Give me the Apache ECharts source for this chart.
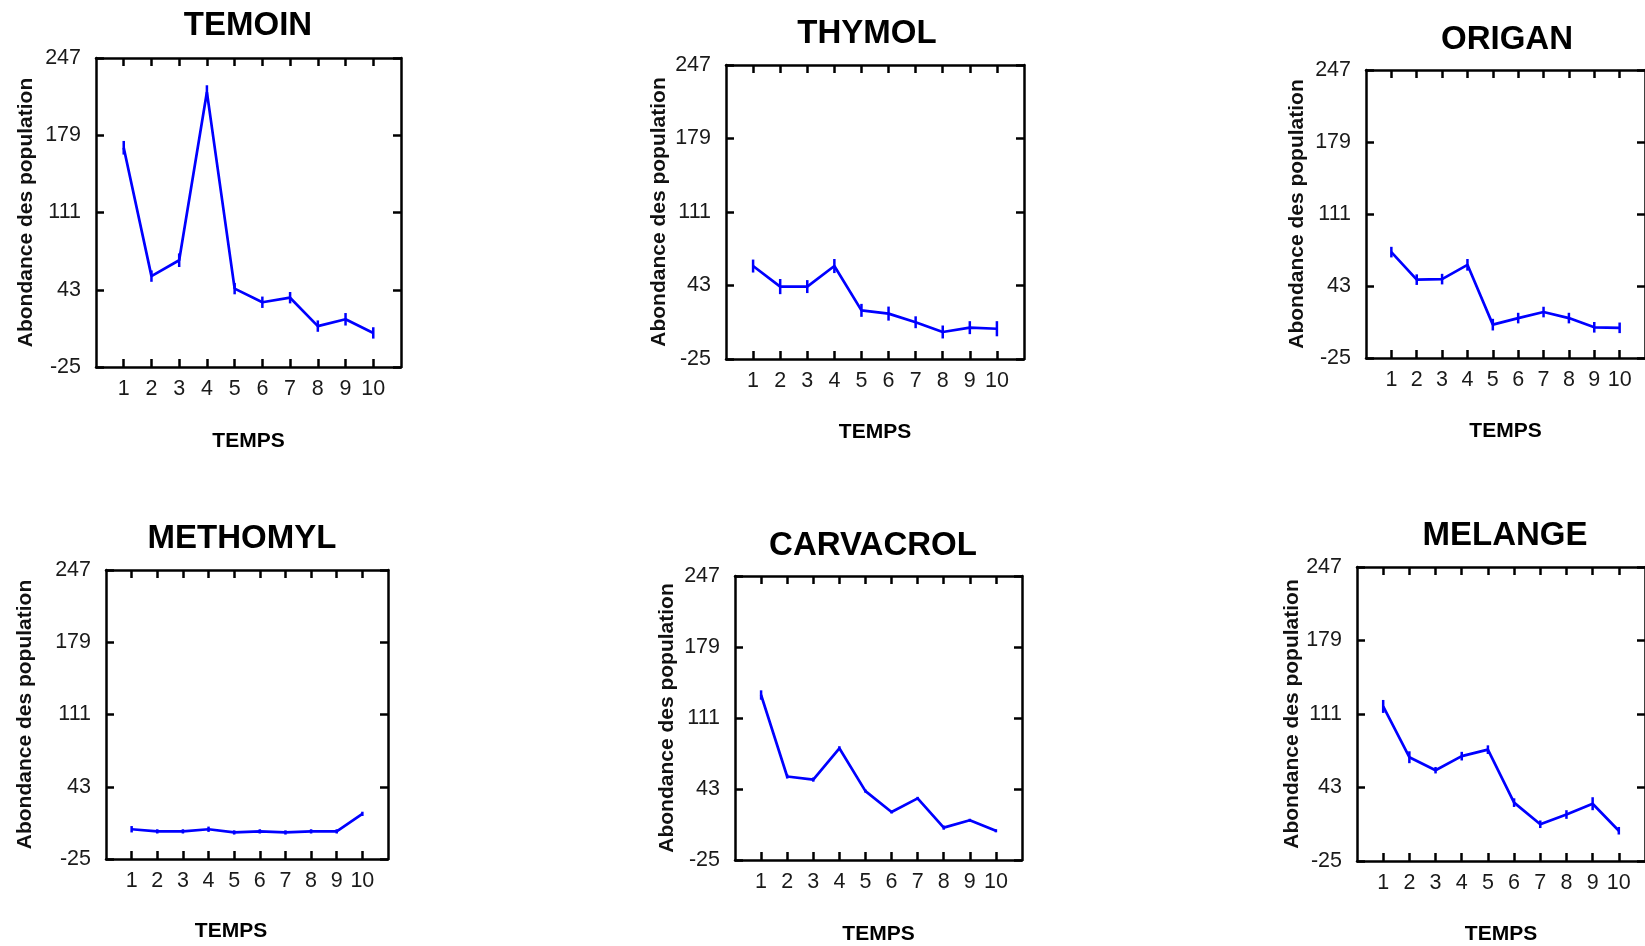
<!DOCTYPE html>
<html>
<head>
<meta charset="utf-8">
<script src="https://cdn.jsdelivr.net/npm/echarts@6/dist/echarts.min.js"></script>
<style>
  html, body { margin: 0; padding: 0; background: #ffffff; }
  #chart { width: 1645px; height: 946px; }
</style>
</head>
<body>
<div id="chart"></div>
<script>
// Sampling times and value-axis ticks shared by every panel
const temps = [1, 2, 3, 4, 5, 6, 7, 8, 9, 10];
const yTicks = [-25, 43, 111, 179, 247];
const titles = ['TEMOIN', 'THYMOL', 'ORIGAN', 'METHOMYL', 'CARVACROL', 'MELANGE'];
const xName = 'TEMPS';
const yName = 'Abondance des population';

// Mean population per treatment, and the half-length of each error bar
const temoin = [168, 55, 69, 217, 44, 32, 36, 11, 17, 5];
const temoinErr = [6, 5, 6, 6, 5, 5, 5, 5, 5.5, 5];
const thymol = [61, 42, 42, 61, 20, 17, 9, 0, 4, 3];
const thymolErr = [6, 7, 6, 6.5, 6, 6.5, 5.5, 6, 6, 7];
const origan = [75, 49, 49.5, 63, 6.5, 12.7, 18.4, 12.7, 4, 3.5];
const origanErr = [5, 5, 5, 5.5, 5.5, 5, 5, 5, 5, 5];
const methomyl = [3, 1, 1, 3, 0, 1, 0, 1, 1, 17.5];
const methomylErr = [3, 2, 2, 2.5, 2, 2, 2, 2, 2, 2];
const carvacrol = [133, 55, 52, 82, 41, 21, 34, 6, 13, 3];
const carvacrolErr = [4.5, 2, 2, 2, 1.5, 1.5, 1.5, 2, 1.5, 1.5];
const melange = [118, 71, 59, 72, 78, 29, 9, 18, 28, 3];
const melangeErr = [6, 5.5, 3, 4, 4, 4, 3.5, 4, 6, 3.5];

const seriesValues = [temoin, thymol, origan, methomyl, carvacrol, melange];
const seriesErrors = [temoinErr, thymolErr, origanErr, methomylErr, carvacrolErr, melangeErr];

// Pixel frame of each small plot (plot box, title centre, axis-name gaps)
const frames = [
  { left: 96,   top: 58,  width: 305,   height: 309, titleX: 248,   titleTop: 9,     xGap: 63.5, yGap: 59, xShift: 0 },
  { left: 726,  top: 65,  width: 298,   height: 294, titleX: 867,   titleTop: 17.5,  xGap: 63,   yGap: 56, xShift: 0 },
  { left: 1366, top: 70,  width: 286,   height: 288, titleX: 1507,  titleTop: 23.5,  xGap: 62.5, yGap: 58, xShift: 0 },
  { left: 106,  top: 570, width: 282,   height: 289, titleX: 242,   titleTop: 522.5, xGap: 61.5, yGap: 70, xShift: 16 },
  { left: 735,  top: 576, width: 287,   height: 287, titleX: 873,   titleTop: 529.5, xGap: 64,   yGap: 57, xShift: 0 },
  { left: 1357, top: 567, width: 291.5, height: 294, titleX: 1505,  titleTop: 519,   xGap: 62.5, yGap: 54, xShift: 0 }
];

const FONT = '"Liberation Sans", Arial, sans-serif';
const INK = '#000000';
const BLUE = '#0000ff';

const frameLine = { show: true, onZero: false, lineStyle: { color: INK, width: 2.5 } };
const yMin = yTicks[0];
const yMax = yTicks[yTicks.length - 1];
const yStep = yTicks[1] - yTicks[0];

const option = {
  animation: false,
  backgroundColor: '#ffffff',
  title: frames.map((f, i) => ({
    text: titles[i],
    left: f.titleX,
    top: f.titleTop,
    textAlign: 'center',
    padding: 0,
    textStyle: { fontFamily: FONT, fontSize: 33, fontWeight: 'bold', color: INK }
  })),
  grid: frames.map(f => ({ left: f.left, top: f.top, width: f.width, height: f.height, containLabel: false })),
  xAxis: [],
  yAxis: [],
  series: []
};

frames.forEach((f, i) => {
  // bottom axis: labels, ticks and name
  option.xAxis.push({
    type: 'value', gridIndex: i, position: 'bottom',
    min: 0, max: 11, interval: 1,
    name: xName, nameLocation: 'middle', nameGap: f.xGap,
    nameTextStyle: {
      fontFamily: FONT, fontSize: 21, fontWeight: 'bold', color: INK,
      padding: [0, f.xShift * 2, 0, 0]
    },
    axisLine: frameLine,
    axisTick: { show: true, inside: true, length: 8, customValues: temps, lineStyle: { color: INK, width: 2.5 } },
    axisLabel: { show: true, customValues: temps, margin: 11, fontFamily: FONT, fontSize: 21.5, color: '#1a1a1a' },
    splitLine: { show: false }
  });
  // top axis: ticks only
  option.xAxis.push({
    type: 'value', gridIndex: i, position: 'top',
    min: 0, max: 11, interval: 1,
    axisLine: frameLine,
    axisTick: { show: true, inside: true, length: 8, customValues: temps, lineStyle: { color: INK, width: 2.5 } },
    axisLabel: { show: false },
    splitLine: { show: false }
  });
  // left axis: labels, ticks and name
  option.yAxis.push({
    type: 'value', gridIndex: i, position: 'left',
    min: yMin, max: yMax, interval: yStep,
    name: yName, nameLocation: 'middle', nameRotate: 90, nameGap: f.yGap,
    nameTextStyle: { fontFamily: FONT, fontSize: 21, fontWeight: 'bold', color: '#111111' },
    axisLine: frameLine,
    axisTick: { show: true, inside: true, length: 8, lineStyle: { color: INK, width: 2.5 } },
    axisLabel: { show: true, margin: 15, showMinLabel: true, showMaxLabel: true, fontFamily: FONT, fontSize: 21.5, color: '#1a1a1a' },
    splitLine: { show: false }
  });
  // right axis: ticks only
  option.yAxis.push({
    type: 'value', gridIndex: i, position: 'right',
    min: yMin, max: yMax, interval: yStep,
    axisLine: frameLine,
    axisTick: { show: true, inside: true, length: 8, lineStyle: { color: INK, width: 2.5 } },
    axisLabel: { show: false },
    splitLine: { show: false }
  });

  const values = seriesValues[i];
  const errors = seriesErrors[i];

  option.series.push({
    type: 'line',
    name: titles[i],
    xAxisIndex: 2 * i,
    yAxisIndex: 2 * i,
    data: temps.map((t, k) => [t, values[k]]),
    symbol: 'none',
    lineStyle: { color: BLUE, width: 2.7 },
    z: 3
  });

  option.series.push({
    type: 'custom',
    name: titles[i] + ' erreur',
    xAxisIndex: 2 * i,
    yAxisIndex: 2 * i,
    dimensions: ['temps', 'moyenne', 'erreur'],
    encode: { x: 0, y: 1 },
    data: temps.map((t, k) => [t, values[k], errors[k]]),
    renderItem: function (params, api) {
      const x = api.value(0);
      const v = api.value(1);
      const e = api.value(2);
      const lo = api.coord([x, v - e]);
      const hi = api.coord([x, v + e]);
      return {
        type: 'line',
        shape: { x1: lo[0], y1: lo[1], x2: hi[0], y2: hi[1] },
        style: { stroke: BLUE, lineWidth: 2.5 }
      };
    },
    z: 4
  });
});

const chart = echarts.init(document.getElementById('chart'), null, { renderer: 'canvas' });
chart.setOption(option);
</script>
</body>
</html>
